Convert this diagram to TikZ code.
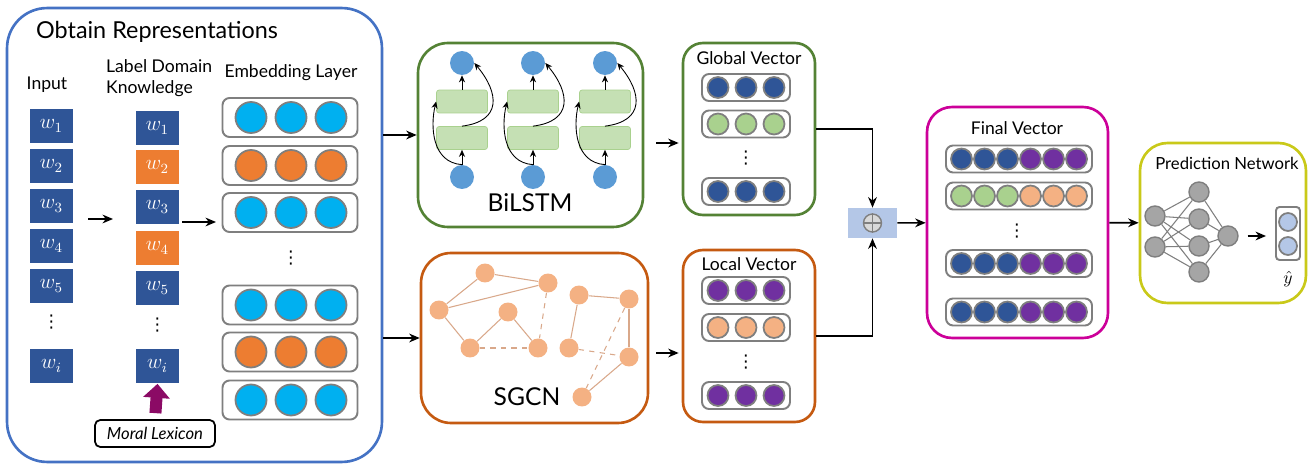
\documentclass[tikz,border=0pt]{standalone}
\usepackage{fontspec}
\setmainfont{Lato}
\newfontfamily\dotsfont{DejaVu Sans}
\usepackage{amsmath}
\usetikzlibrary{arrows.meta, calc, positioning}
\definecolor{repblue}{HTML}{4472C4}
\definecolor{wblue}{HTML}{2F5597}
\definecolor{worange}{HTML}{ED7D31}
\definecolor{ecyan}{HTML}{00B0F0}
\definecolor{rowgray}{HTML}{7F7F7F}
\definecolor{lstmgreen}{HTML}{548235}
\definecolor{lstmblue}{HTML}{5B9BD5}
\definecolor{cellgreen}{HTML}{C5E0B4}
\definecolor{cellborder}{HTML}{A9D18E}
\definecolor{sgcnorange}{HTML}{C55A11}
\definecolor{gpeach}{HTML}{F4B183}
\definecolor{gedgec}{HTML}{D9A88A}
\definecolor{vgreen}{HTML}{A9D18E}
\definecolor{vpurple}{HTML}{7030A0}
\definecolor{finalmag}{HTML}{CC0099}
\definecolor{predyel}{HTML}{C9C919}
\definecolor{nngray}{HTML}{A5A5A5}
\definecolor{plusblue}{HTML}{B4C7E7}
\definecolor{plusgray}{HTML}{D9D9D9}
\definecolor{lexpurple}{HTML}{8B0A65}

\begin{document}
\begin{tikzpicture}[x=0.02cm, y=-0.02cm,
  grp/.style={draw=#1, line width=1.5pt, fill=white},
  word/.style={fill=wblue, text=white, minimum width=0.86cm, minimum height=0.7cm, inner sep=0pt, font=\large},
  rowbox/.style={draw=rowgray, line width=1.1pt, rounded corners=4pt, fill=white},
  emb/.style={rowbox, minimum width=2.7cm, minimum height=0.78cm},
  vrow/.style={rowbox, minimum width=1.76cm, minimum height=0.54cm},
  frow/.style={rowbox, minimum width=2.92cm, minimum height=0.54cm},
  unit/.style={circle, draw=rowgray, line width=1pt, inner sep=0pt},
  bigc/.style={unit, minimum size=0.62cm},
  smallc/.style={unit, minimum size=0.42cm},
  vdts/.style={inner sep=0pt, font=\dotsfont\fontsize{10}{10}\selectfont},
  lstmc/.style={circle, fill=lstmblue, minimum size=0.48cm, inner sep=0pt},
  cell/.style={draw=cellborder, fill=cellgreen, rounded corners=1.5pt, minimum width=1.02cm, minimum height=0.46cm, inner sep=0pt},
  gnode/.style={circle, fill=gpeach, minimum size=0.38cm, inner sep=0pt},
  gedge/.style={gedgec, line width=0.6pt},
  nn/.style={circle, draw=rowgray, fill=nngray, line width=0.8pt, minimum size=0.4cm, inner sep=0pt},
  nnedge/.style={rowgray, line width=0.6pt},
  arr/.style={-{Stealth[length=6pt, width=5pt]}, line width=0.9pt},
  thinarr/.style={-{Stealth[length=4pt, width=3.5pt]}, line width=0.5pt},
  ttl/.style={font=\fontsize{10}{12}\selectfont},
  big/.style={font=\fontsize{14}{16}\selectfont}
]
  \useasboundingbox (0,0) rectangle (1313,466);

  \node[grp=repblue, rounded corners=0.8cm, minimum width=7.5cm, minimum height=9.08cm] (rep) at (194.5,235) {};
  \node[grp=lstmgreen, rounded corners=0.6cm, minimum width=4.5cm, minimum height=3.68cm] (bilstm) at (530.5,135) {};
  \node[grp=lstmgreen, rounded corners=0.4cm, minimum width=2.64cm, minimum height=3.44cm] (global) at (749,129) {};
  \node[grp=sgcnorange, rounded corners=0.6cm, minimum width=4.54cm, minimum height=3.4cm] (sgcn) at (534.5,338) {};
  \node[grp=sgcnorange, rounded corners=0.4cm, minimum width=2.64cm, minimum height=3.44cm] (local) at (749,336) {};
  \node[grp=finalmag, rounded corners=0.5cm, minimum width=3.62cm, minimum height=4.62cm] (final) at (1017.5,222.5) {};
  \node[grp=predyel, rounded corners=0.55cm, minimum width=3.32cm, minimum height=3.2cm] (pred) at (1223,223) {};

  \node[anchor=west, font=\fontsize{13.3}{15}\selectfont] (reptitle) at (30,32) {Obtain Representations};
  \node[ttl] (intitle) at (47,85) {Input};
  \node[ttl, anchor=west, align=left] (lbtitle) at (100,78) {Label Domain\\Knowledge};
  \node[ttl] (embtitle) at (291,73) {Embedding Layer};

  \foreach \n/\y in {1/126,2/166,3/206,4/246,5/286}
    \node[word] (in\n) at (51.5,\y) {$w_{\n}$};
  \node[vdts] (indots) at (51.5,322) {⋮};
  \node[word] (ini) at (51.5,366) {$w_i$};

  \foreach \n/\y/\c in {1/128/wblue,2/167/worange,3/207/wblue,4/248/worange,5/288/wblue}
    \node[word, fill=\c] (lb\n) at (157.5,\y) {$w_{\n}$};
  \node[vdts] (lbdots) at (157.5,325) {⋮};
  \node[word] (lbi) at (157.5,366) {$w_i$};

  \node[draw, line width=1pt, rounded corners=3pt, minimum width=2.4cm, minimum height=0.54cm, font=\fontsize{9.5}{11}\itshape] (lex) at (155,433.5) {Moral Lexicon};
  \draw[-{Triangle[length=0.28cm, width=0.52cm]}, line width=0.24cm, lexpurple, shorten <=0.12cm] (lex.north) -- (lbi.south);

  \coordinate (a1s) at (88,219);
  \coordinate (a1e) at (113,219);
  \coordinate (a2s) at (182,222);
  \coordinate (a2e) at (216,222);
  \draw[arr] (a1s) -- (a1e);
  \draw[arr] (a2s) -- (a2e);

  \foreach \n/\y/\c in {1/117.5/ecyan,2/165.5/worange,3/212.5/ecyan,4/305/ecyan,5/352/worange,6/400/ecyan} {
    \node[emb] (emb\n) at (290,\y) {};
    \foreach \dx [count=\k] in {-39,1,41}
      \node[bigc, fill=\c] (emb\n-\k) at (290+\dx,\y) {};
  }
  \node[vdts] (embdots) at (291,258) {⋮};

  \foreach \i/\x in {1/462,2/533,3/605} {
    \node[lstmc] (xin\i) at (\x,177) {};
    \node[cell] (lo\i) at (\x,138) {};
    \node[cell] (up\i) at (\x,101.5) {};
    \node[lstmc] (hout\i) at (\x,63) {};
    \draw[thinarr] (xin\i) -- (lo\i);
    \draw[thinarr] (up\i) -- (hout\i);
    \draw[thinarr] (xin\i.north) .. controls +(-30,-2) and +(-6,25) .. (up\i.west);
    \draw[thinarr] (lo\i.north) .. controls +(40,-5) and +(25,30) .. (hout\i.east);
  }
  \node[big] (lstmname) at (530,203) {BiLSTM};

  \node[gnode] (ga) at (485,273) {};
  \node[gnode] (gb) at (548,283) {};
  \node[gnode] (gc) at (439,310) {};
  \node[gnode] (gd) at (508,312) {};
  \node[gnode] (ge) at (470,348) {};
  \node[gnode] (gf) at (538,348) {};
  \node[gnode] (gg) at (579,295) {};
  \node[gnode] (gh) at (629,299) {};
  \node[gnode] (gi) at (569,348) {};
  \node[gnode] (gj) at (629,357) {};
  \node[gnode] (gk) at (582,397) {};
  \foreach \a/\b in {gc/ga,ga/gb,gc/gb,gc/ge,ge/gd,gd/gf,gg/gh,gg/gi,gh/gj,gj/gk}
    \draw[gedge] (\a) -- (\b);
  \foreach \a/\b in {ge/gf,gb/gf,gi/gj,gh/gk}
    \draw[gedge, dashed] (\a) -- (\b);
  \node[big] (sgcnname) at (527,397) {SGCN};

  \node[ttl] (gtitle) at (749,58) {Global Vector};
  \foreach \n/\y/\c in {1/87.5/wblue,2/124/vgreen,3/191.5/wblue} {
    \node[vrow] (gv\n) at (746,\y) {};
    \foreach \dx [count=\k] in {-28,0,28}
      \node[smallc, fill=\c] (gv\n-\k) at (746+\dx,\y) {};
  }
  \node[vdts] (gdots) at (746,158) {⋮};

  \node[ttl] (ltitle) at (749,264) {Local Vector};
  \foreach \n/\y/\c in {1/290.5/vpurple,2/327.5/gpeach,3/395.5/vpurple} {
    \node[vrow] (lv\n) at (746,\y) {};
    \foreach \dx [count=\k] in {-28,0,28}
      \node[smallc, fill=\c] (lv\n-\k) at (746+\dx,\y) {};
  }
  \node[vdts] (ldots) at (746,362) {⋮};

  \node[ttl] (ftitle) at (1017,128) {Final Vector};
  \foreach \n/\y/\ca/\cb in {1/159/wblue/vpurple,2/196/vgreen/gpeach,3/263.5/wblue/vpurple,4/312/wblue/vpurple} {
    \node[frow] (fv\n) at (1019,\y) {};
    \foreach \dx [count=\k] in {-57.5,-34.5,-11.5}
      \node[smallc, fill=\ca] (fv\n-\k) at (1019+\dx,\y) {};
    \foreach \dx [count=\k from 4] in {11.5,34.5,57.5}
      \node[smallc, fill=\cb] (fv\n-\k) at (1019+\dx,\y) {};
  }
  \node[vdts] (fdots) at (1017,231) {⋮};

  \node[fill=plusblue, minimum width=0.98cm, minimum height=0.6cm] (plus) at (872.5,223) {};
  \node[circle, draw=rowgray, fill=plusgray, line width=0.8pt, minimum size=0.36cm, inner sep=0pt] (oplus) at (plus) {};
  \draw[rowgray, line width=0.8pt] (oplus.north) -- (oplus.south) (oplus.west) -- (oplus.east);

  \node[font=\fontsize{9.5}{11}\selectfont] (ptitle) at (1227,163) {Prediction Network};
  \foreach \n/\y in {1/216,2/247}
    \node[nn] (pa\n) at (1155,\y) {};
  \foreach \n/\y in {1/192,2/219,3/246,4/272}
    \node[nn] (pb\n) at (1199,\y) {};
  \node[nn] (pc) at (1228,236) {};
  \foreach \a in {1,2}
    \foreach \b in {1,...,4}
      \draw[nnedge] (pa\a) -- (pb\b);
  \foreach \b in {1,...,4}
    \draw[nnedge] (pb\b) -- (pc);
  \node[rowbox, rounded corners=2pt, minimum width=0.48cm, minimum height=1.06cm] (yvec) at (1288,233.5) {};
  \node[unit, fill=plusblue, minimum size=0.36cm] (y1) at (1288,222) {};
  \node[unit, fill=plusblue, minimum size=0.36cm] (y2) at (1288,246) {};
  \node (yhat) at (1288,279) {$\hat{y}$};
  \draw[arr, shorten <=0.18cm, shorten >=0.18cm] (pc.east) -- (pc.east -| yvec.west);

  \draw[arr] (rep.east |- bilstm.west) -- (bilstm.west);
  \draw[arr] (rep.east |- sgcn.west) -- (sgcn.west);
  \draw[arr, shorten <=0.24cm, shorten >=0.06cm] ($(bilstm.east)+(0,8)$) -- ($(bilstm.east -| global.west)+(0,8)$);
  \draw[arr, shorten <=0.14cm, shorten >=0.06cm] ($(sgcn.east)+(0,15)$) -- ($(sgcn.east -| local.west)+(0,15)$);
  \draw[arr] (global.east) -| (plus.north);
  \draw[arr] (local.east) -| (plus.south);
  \draw[arr] (plus) -- (final);
  \draw[arr] (final) -- (pred);
\end{tikzpicture}
\end{document}
